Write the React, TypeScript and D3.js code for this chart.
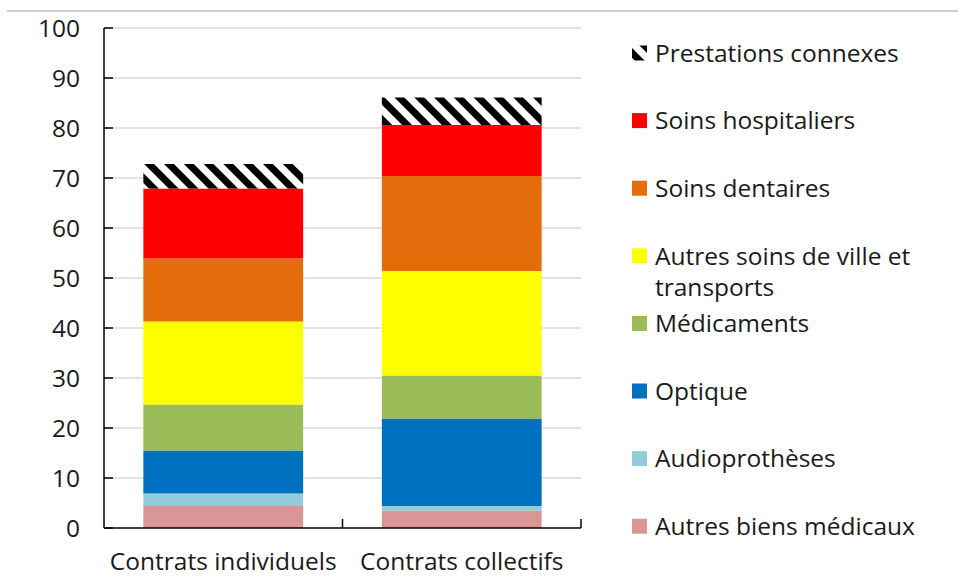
import * as d3 from "d3";
import React from "react";

const categories = ["Contrats individuels", "Contrats collectifs"];
const seriesNames = [
  "Autres biens médicaux",
  "Audioprothèses",
  "Optique",
  "Médicaments",
  "Autres soins de ville et transports",
  "Soins dentaires",
  "Soins hospitaliers",
  "Prestations connexes",
];
const individuelsValues = [4.4, 2.5, 8.6, 9.2, 16.6, 12.6, 14.0, 4.9];
const collectifsValues = [3.5, 0.9, 17.5, 8.6, 20.9, 19.0, 10.2, 5.5];
const yTicks = [0, 10, 20, 30, 40, 50, 60, 70, 80, 90, 100];
const colors = ["#DA9694", "#92CDDC", "#0070C0", "#9BBB59", "#FFFF00", "#E46C0A", "#FF0000", "url(#hatch)"];
// legend wraps this label on two lines
const legendLines: Record<string, string[]> = {
  "Autres soins de ville et transports": ["Autres soins de ville et", "transports"],
};

const W = 958;
const H = 577;
const FONT = "'Open Sans', sans-serif";
const FS = 24.5;

export default function App() {
  const margin = { left: 104, right: 377, top: 28, bottom: 49 };
  const x = d3
    .scaleBand()
    .domain(categories)
    .range([margin.left, W - margin.right])
    .paddingInner(0.33)
    .paddingOuter(0.165);
  const y = d3.scaleLinear().domain([0, 100]).range([H - margin.bottom, margin.top]);

  const rows = categories.map((c, i) => {
    const vals = i === 0 ? individuelsValues : collectifsValues;
    const r: any = { cat: c };
    seriesNames.forEach((s, j) => (r[s] = vals[j]));
    return r;
  });
  const stacked = d3.stack().keys(seriesNames)(rows);

  const x0 = margin.left;
  const x1 = W - margin.right;
  const legendX = 632;
  const legendTop = 53;
  const legendStep = 67.6;
  const legendOrder = seriesNames.slice().reverse();

  return (
    <svg
      width={W}
      height={H}
      style={{ position: "fixed", left: 0, top: 0, background: "#fff" }}
      fontFamily={FONT}
    >
      <defs>
        <pattern id="hatch" width="14" height="14" patternUnits="userSpaceOnUse" patternTransform="rotate(-45)">
          <rect width="14" height="14" fill="#fff" />
          <rect width="7" height="14" fill="#000" />
        </pattern>
      </defs>
      <line x1={7} x2={W} y1={11} y2={11} stroke="#bfbfbf" strokeWidth={1.5} />

      {/* gridlines */}
      {yTicks.filter((t) => t > 0).map((t) => (
        <line key={t} x1={x0} x2={x1} y1={y(t)} y2={y(t)} stroke="#d9d9d9" strokeWidth={1.5} />
      ))}

      {/* bars */}
      {stacked.map((layer, j) => (
        <g key={layer.key} fill={colors[j]}>
          {layer.map((d: any) => (
            <rect
              key={d.data.cat}
              x={x(d.data.cat)}
              width={x.bandwidth()}
              y={y(d[1])}
              height={y(d[0]) - y(d[1])}
            />
          ))}
        </g>
      ))}

      {/* y axis */}
      <line x1={x0} x2={x0} y1={y(100)} y2={y(0)} stroke="#000" strokeWidth={1.5} />
      {yTicks.map((t) => (
        <g key={t}>
          <line x1={x0} x2={x0 + 9} y1={y(t)} y2={y(t)} stroke="#000" strokeWidth={1.5} />
          <text x={80} y={y(t)} dy="0.36em" textAnchor="end" fontSize={FS} fill="#1a1a1a">
            {t}
          </text>
        </g>
      ))}

      {/* x axis */}
      <line x1={x0} x2={x1} y1={y(0)} y2={y(0)} stroke="#000" strokeWidth={1.5} />
      {[x0 + (x1 - x0) / 2, x1].map((p, i) => (
        <line key={i} x1={p} x2={p} y1={y(0)} y2={y(0) - 9} stroke="#000" strokeWidth={1.5} />
      ))}
      {categories.map((c) => (
        <text key={c} x={(x(c) as number) + x.bandwidth() / 2} y={570} textAnchor="middle" fontSize={FS} fill="#1a1a1a">
          {c}
        </text>
      ))}

      {/* legend */}
      {legendOrder.map((s, i) => {
        const cy = legendTop + i * legendStep;
        const lines = legendLines[s] || [s];
        const j = seriesNames.indexOf(s);
        return (
          <g key={s}>
            <rect x={legendX} y={cy - 7.5} width={15} height={15} fill={colors[j]} />
            {lines.map((l, k) => (
              <text key={k} x={655} y={cy + k * 31} dy="0.36em" fontSize={FS} fill="#1a1a1a">
                {l}
              </text>
            ))}
          </g>
        );
      })}
    </svg>
  );
}
